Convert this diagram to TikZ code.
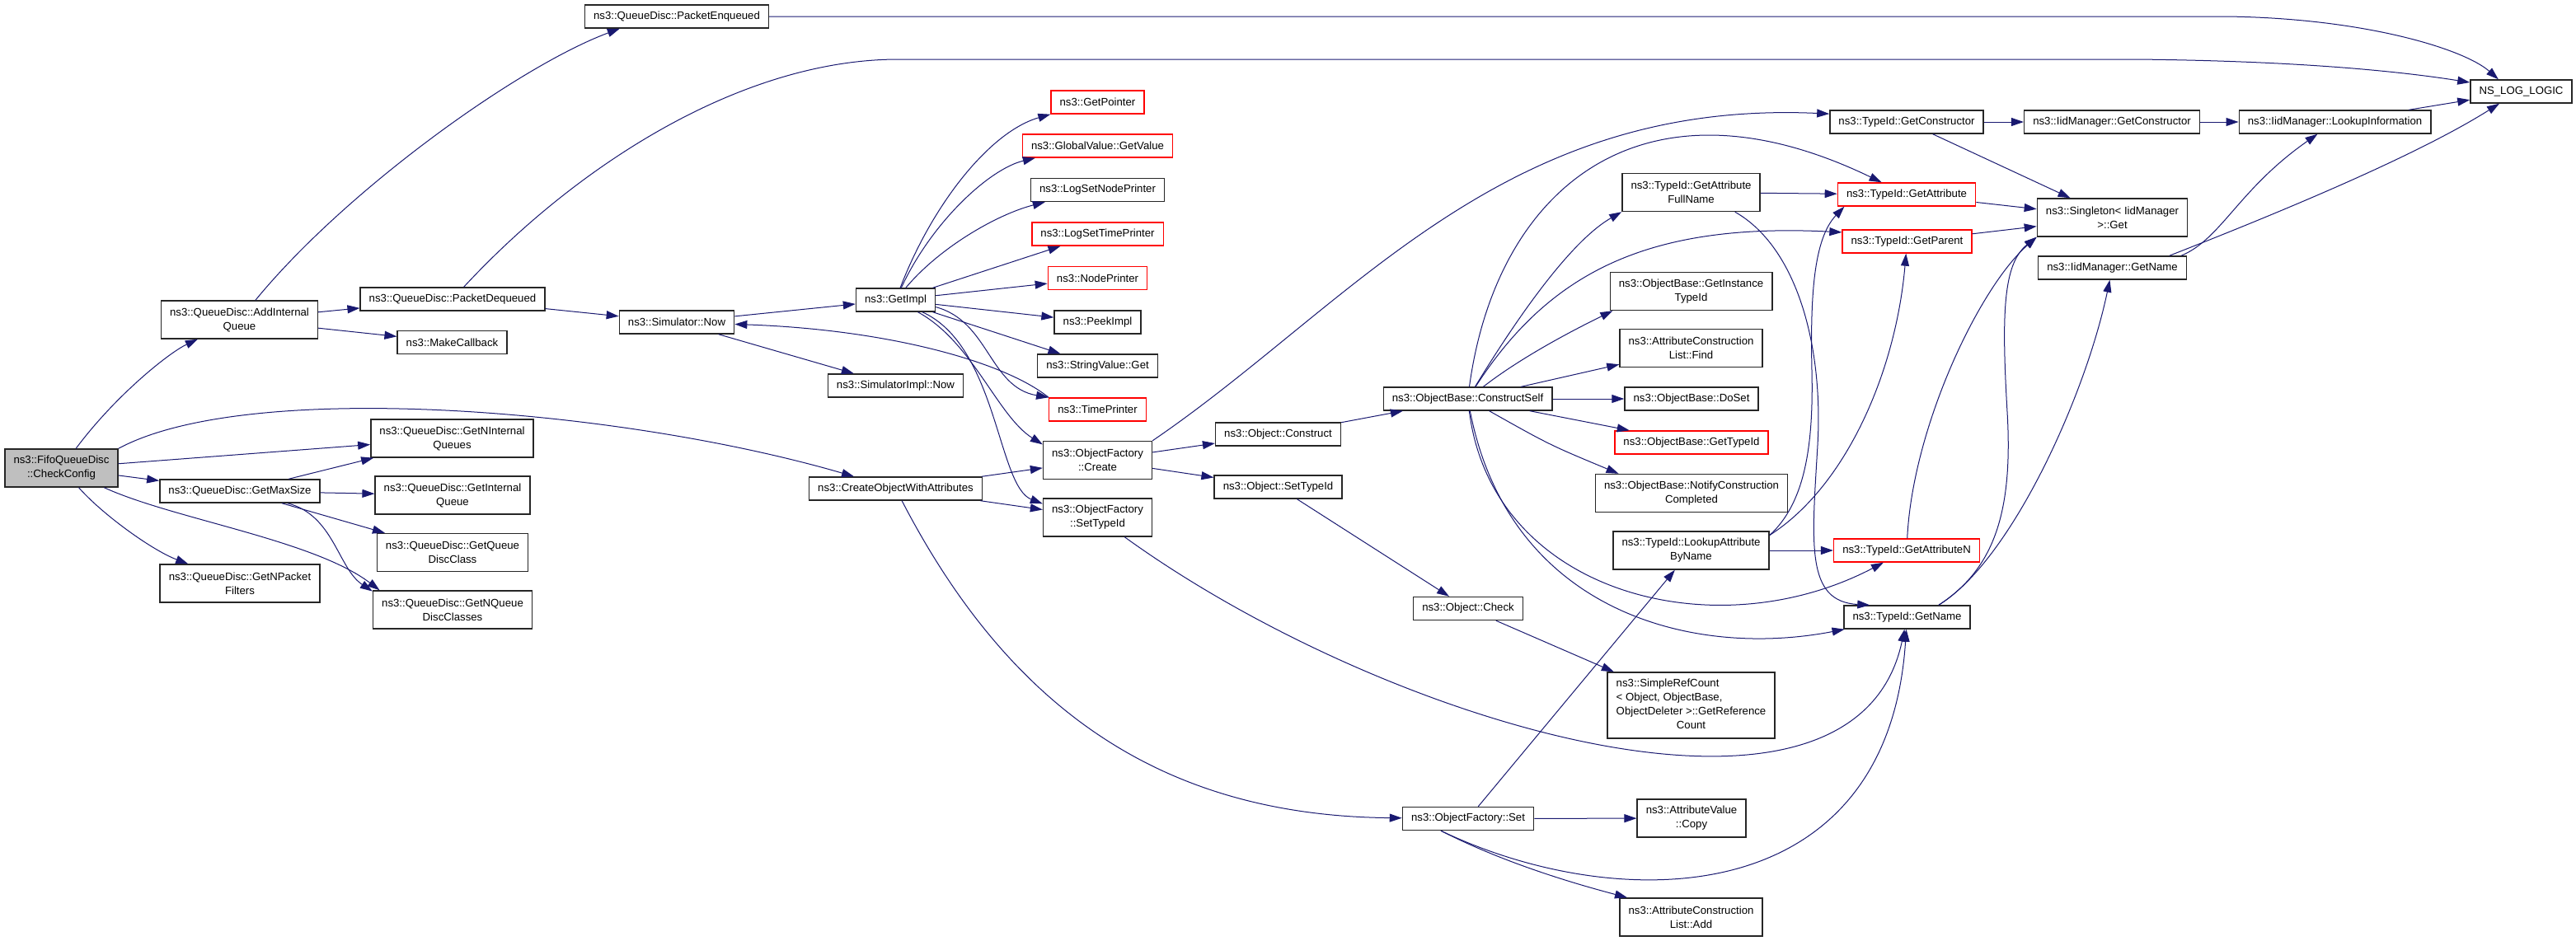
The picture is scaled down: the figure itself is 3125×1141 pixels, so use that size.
\documentclass[tikz,border=0pt]{standalone}
\usepackage{fontspec}
\setmainfont{Liberation Sans}
\usetikzlibrary{arrows.meta}
\definecolor{edgeblue}{HTML}{191970}
\definecolor{rootgray}{HTML}{BFBFBF}
\tikzset{
  fn/.style={draw=black!85, line width=0.7pt, fill=white, inner xsep=5.3pt, inner ysep=1pt,
    minimum height=14pt, align=center, font=\fontsize{6.6}{8.5}\selectfont},
  fntrunc/.style={fn, draw=red},
  fnroot/.style={fn, fill=rootgray},
  two/.style={minimum height=23pt},
  calls/.style={edgeblue, line width=0.5pt, -{Triangle[length=7.5pt,width=5pt]}},
}
\begin{document}
\begin{tikzpicture}[x=0.5pt,y=0.5pt]
   \useasboundingbox (0,0) rectangle (3125,-1141);
   % functions
   \node[fnroot,two] (root) at (74.5,-568) {ns3::FifoQueueDisc\\::CheckConfig};
   \node[fn,two] (addq) at (290.5,-388) {ns3::QueueDisc::AddInternal\\Queue};
   \node[fn] (penq) at (821,-20) {ns3::QueueDisc::PacketEnqueued};
   \node[fn] (pdeq) at (549,-363) {ns3::QueueDisc::PacketDequeued};
   \node[fn] (mkcb) at (548.5,-415.5) {ns3::MakeCallback};
   \node[fn,two] (ninq) at (548.5,-532) {ns3::QueueDisc::GetNInternal\\Queues};
   \node[fn] (maxs) at (291,-596) {ns3::QueueDisc::GetMaxSize};
   \node[fn,two] (giq) at (549,-601) {ns3::QueueDisc::GetInternal\\Queue};
   \node[fn,two] (qdc) at (549,-670.5) {ns3::QueueDisc::GetQueue\\DiscClass};
   \node[fn,two] (npf) at (291,-708) {ns3::QueueDisc::GetNPacket\\Filters};
   \node[fn,two] (nqdc) at (549,-740) {ns3::QueueDisc::GetNQueue\\DiscClasses};
   \node[fn] (simnow) at (821,-391) {ns3::Simulator::Now};
   \node[fn] (getimpl) at (1086.5,-364) {ns3::GetImpl};
   \node[fn] (simimpl) at (1086.5,-468) {ns3::SimulatorImpl::Now};
   \node[fn] (cowa) at (1086.5,-593) {ns3::CreateObjectWithAttributes};
   \node[fntrunc] (getptr) at (1331.5,-124) {ns3::GetPointer};
   \node[fntrunc] (gval) at (1331.5,-177) {ns3::GlobalValue::GetValue};
   \node[fn] (lsnp) at (1331.5,-230.5) {ns3::LogSetNodePrinter};
   \node[fntrunc] (lstp) at (1331.5,-284) {ns3::LogSetTimePrinter};
   \node[fntrunc] (nodep) at (1331.5,-337.5) {ns3::NodePrinter};
   \node[fn] (peek) at (1331.5,-391) {ns3::PeekImpl};
   \node[fn] (strv) at (1331.5,-444) {ns3::StringValue::Get};
   \node[fntrunc] (timep) at (1331.5,-497) {ns3::TimePrinter};
   \node[fn,two] (ofcreate) at (1331.5,-558.5) {ns3::ObjectFactory\\::Create};
   \node[fn,two] (ofsettid) at (1331.5,-628) {ns3::ObjectFactory\\::SetTypeId};
   \node[fn] (oconstruct) at (1550.5,-527) {ns3::Object::Construct};
   \node[fn] (osettid) at (1550.5,-591) {ns3::Object::SetTypeId};
   \node[fn] (cself) at (1780.5,-484) {ns3::ObjectBase::ConstructSelf};
   \node[fn] (ocheck) at (1781,-738.5) {ns3::Object::Check};
   \node[fn] (ofset) at (1781,-993.5) {ns3::ObjectFactory::Set};
   \node[fn,two] (tgafn) at (2051.5,-233.5) {ns3::TypeId::GetAttribute\\FullName};
   \node[fn,two] (gitid) at (2051.5,-353.5) {ns3::ObjectBase::GetInstance\\TypeId};
   \node[fn,two] (aclfind) at (2051.5,-422.5) {ns3::AttributeConstruction\\List::Find};
   \node[fn] (doset) at (2052,-484) {ns3::ObjectBase::DoSet};
   \node[fntrunc] (obgtid) at (2052,-537) {ns3::ObjectBase::GetTypeId};
   \node[fn,two] (ncc) at (2052,-598.5) {ns3::ObjectBase::NotifyConstruction\\Completed};
   \node[fn,two] (tlabn) at (2051.5,-668) {ns3::TypeId::LookupAttribute\\ByName};
   \node[fn,minimum height=40pt] (src) at (2051.5,-856) {\begin{tabular}{@{}l@{}}ns3::SimpleRefCount\\< Object, ObjectBase,\\ObjectDeleter >::GetReference\\\multicolumn{1}{@{}c@{}}{Count}\end{tabular}};
   \node[fn,two] (avcopy) at (2052,-993) {ns3::AttributeValue\\::Copy};
   \node[fn,two] (acladd) at (2051.5,-1113) {ns3::AttributeConstruction\\List::Add};
   \node[fn] (tgetctor) at (2313,-148) {ns3::TypeId::GetConstructor};
   \node[fntrunc] (tgattr) at (2313,-236) {ns3::TypeId::GetAttribute};
   \node[fntrunc] (tgpar) at (2313.5,-293) {ns3::TypeId::GetParent};
   \node[fntrunc] (tgattrn) at (2313,-668) {ns3::TypeId::GetAttributeN};
   \node[fn] (tgname) at (2313.5,-749) {ns3::TypeId::GetName};
   \node[fn] (igetctor) at (2562,-148) {ns3::IidManager::GetConstructor};
   \node[fn,two] (single) at (2562.5,-264) {ns3::Singleton< IidManager\\>::Get};
   \node[fn] (igetname) at (2562.5,-325) {ns3::IidManager::GetName};
   \node[fn] (ilookup) at (2832.5,-148) {ns3::IidManager::LookupInformation};
   \node[fn] (nslog) at (3058.5,-111) {NS\_LOG\_LOGIC};
   % CheckConfig
   \draw[calls] (root) .. controls (140,-480) and (205,-428) .. (addq);
   \draw[calls] (root.north east) .. controls (300,-460) and (750,-495) .. (cowa);
   \draw[calls] (root) -- (ninq);
   \draw[calls] (root) -- (maxs);
   \draw[calls] (root) .. controls (125,-625) and (185,-668) .. (npf);
   \draw[calls] (root) .. controls (210,-630) and (380,-655) .. (nqdc.165);
   % AddInternalQueue, PacketDequeued, PacketEnqueued
   \draw[calls] (addq) .. controls (420,-230) and (630,-80) .. (penq.192);
   \draw[calls] (addq) -- (pdeq);
   \draw[calls] (addq) -- (mkcb);
   \draw[calls] (pdeq) -- (simnow);
   \draw[calls] (pdeq) .. controls (700,-200) and (900,-72) .. (1090,-72) -- (2590,-72)
      .. controls (2800,-74) and (2920,-88) .. (nslog.170);
   \draw[calls] (penq.east) -- (2700,-20) .. controls (2870,-22) and (2990,-60) .. (nslog.152);
   % GetMaxSize
   \draw[calls] (maxs) -- (ninq);
   \draw[calls] (maxs) -- (giq);
   \draw[calls] (maxs) -- (qdc);
   \draw[calls] (maxs) .. controls (405,-625) and (410,-690) .. (nqdc.167);
   % Simulator::Now, GetImpl
   \draw[calls] (simnow) -- (getimpl);
   \draw[calls] (simnow) -- (simimpl);
   \draw[calls] (getimpl) .. controls (1130,-250) and (1200,-160) .. (getptr.south west);
   \draw[calls] (getimpl) .. controls (1130,-270) and (1200,-205) .. (gval.191);
   \draw[calls] (getimpl) .. controls (1140,-300) and (1210,-260) .. (lsnp.193);
   \draw[calls] (getimpl) -- (lstp);
   \draw[calls] (getimpl) -- (nodep);
   \draw[calls] (getimpl) -- (peek);
   \draw[calls] (getimpl) -- (strv);
   \draw[calls] (getimpl.-10) .. controls (1200,-390) and (1200,-470) .. (timep.north west);
   \draw[calls] (timep.north west) .. controls (1220,-440) and (1080,-400) .. (simnow);
   \draw[calls] (getimpl) .. controls (1180,-415) and (1210,-505) .. (ofcreate.164);
   \draw[calls] (getimpl) .. controls (1210,-420) and (1210,-590) .. (ofsettid.166);
   % CreateObjectWithAttributes, ObjectFactory
   \draw[calls] (cowa) -- (ofcreate);
   \draw[calls] (cowa) -- (ofsettid);
   \draw[calls] (cowa) .. controls (1230,-870) and (1420,-990) .. (ofset);
   \draw[calls] (ofcreate) -- (oconstruct);
   \draw[calls] (ofcreate) -- (osettid);
   \draw[calls] (ofcreate.north east) .. controls (1640,-370) and (1820,-120) .. (tgetctor.174);
   \draw[calls] (ofsettid) .. controls (1680,-880) and (2250,-1050) .. (tgname);
   \draw[calls] (osettid) -- (ocheck);
   \draw[calls] (ocheck) -- (src);
   \draw[calls] (oconstruct) -- (cself);
   % ConstructSelf
   \draw[calls] (cself) .. controls (1850,-370) and (1910,-290) .. (tgafn.south west);
   \draw[calls] (cself) .. controls (1815,-230) and (1990,-80) .. (tgattr);
   \draw[calls] (cself) .. controls (1880,-330) and (2000,-270) .. (tgpar.172);
   \draw[calls] (cself) .. controls (1850,-430) and (1920,-395) .. (gitid.194);
   \draw[calls] (cself) -- (aclfind);
   \draw[calls] (cself) -- (doset);
   \draw[calls] (cself) -- (obgtid);
   \draw[calls] (cself) .. controls (1880,-540) .. (ncc.165);
   \draw[calls] (cself) .. controls (1810,-720) and (2080,-790) .. (tgattrn);
   \draw[calls] (cself) .. controls (1830,-740) and (2050,-800) .. (tgname);
   % TypeId
   \draw[calls] (tgafn) -- (tgattr);
   \draw[calls] (tgafn.336) .. controls (2180,-300) and (2212,-420) .. (2205,-540)
      .. controls (2198,-660) and (2190,-730) .. (tgname.162);
   \draw[calls] (tlabn) -- (tgattrn);
   \draw[calls] (tlabn.11) .. controls (2190,-610) and (2200,-540) .. (2198,-450)
      .. controls (2196,-360) and (2200,-290) .. (tgattr.191);
   \draw[calls] (tlabn.11) .. controls (2240,-590) and (2300,-450) .. (tgpar);
   \draw[calls] (tgattrn) .. controls (2320,-520) and (2400,-350) .. (single.south west);
   \draw[calls] (tgname.21) .. controls (2420,-690) and (2442,-620) .. (2435,-500)
      .. controls (2428,-380) and (2430,-320) .. (single.south west);
   \draw[calls] (tgname.21) .. controls (2440,-680) and (2530,-480) .. (igetname);
   \draw[calls] (tgattr) -- (single);
   \draw[calls] (tgpar) -- (single);
   \draw[calls] (tgetctor) -- (igetctor);
   \draw[calls] (tgetctor) -- (single);
   % IidManager
   \draw[calls] (igetctor) -- (ilookup);
   \draw[calls] (ilookup) -- (nslog);
   \draw[calls] (igetname.10) .. controls (2695,-290) and (2715,-230) .. (ilookup);
   \draw[calls] (igetname.12) .. controls (2760,-260) and (2930,-190) .. (nslog.209);
   % ObjectFactory::Set
   \draw[calls] (ofset) -- (tlabn);
   \draw[calls] (ofset) -- (avcopy);
   \draw[calls] (ofset.204) .. controls (1960,-1110) and (2290,-1110) .. (tgname);
   \draw[calls] (ofset.204) .. controls (1830,-1050) and (1920,-1075) .. (acladd.163);
\end{tikzpicture}
\end{document}
